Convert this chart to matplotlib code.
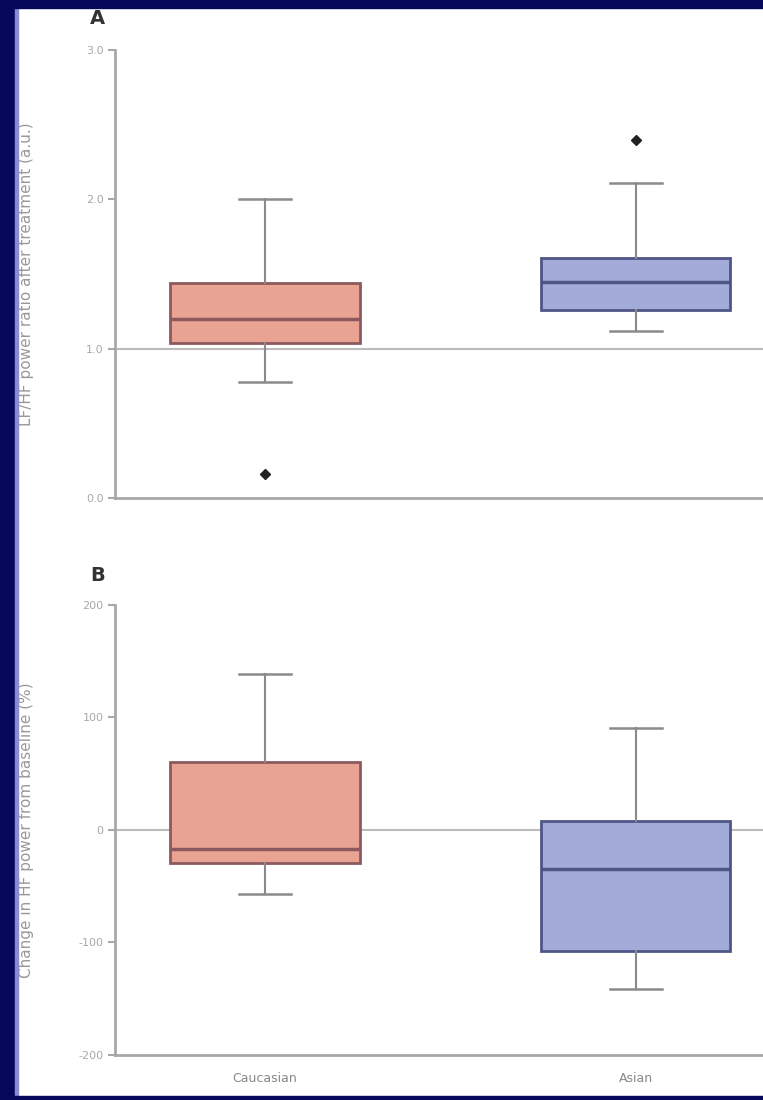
import matplotlib
matplotlib.use("Agg")
import matplotlib.pyplot as plt
from matplotlib.patches import Rectangle

# grupos e estatisticas dos boxplots
grupos = ["Caucasian", "Asian"]
cores = ["#e9a393", "#a3acd9"]
bordas = ["#8c5a5e", "#4f5687"]

# painel A
a_q1 = [1.04, 1.26]
a_med = [1.20, 1.45]
a_q3 = [1.44, 1.61]
a_wlo = [0.78, 1.12]
a_whi = [2.00, 2.11]
a_out = [[0.16], [2.40]]
a_ticks = [0, 1, 2, 3]
a_ticklabels = ["0.0", "1.0", "2.0", "3.0"]

# painel B
b_q1 = [-29, -108]
b_med = [-17, -35]
b_q3 = [60, 8]
b_wlo = [-57, -141]
b_whi = [139, 91]
b_out = [[], []]
b_ticks = [-200, -100, 0, 100, 200]
b_ticklabels = ["-200", "-100", "0", "100", "200"]

fig = plt.figure(figsize=(7.63, 11.0), dpi=100)

# moldura azul escura
fig.patches.append(Rectangle((0, 0), 0.020, 1, transform=fig.transFigure, color="#06065a", zorder=0))
fig.patches.append(Rectangle((0.020, 0), 0.004, 1, transform=fig.transFigure, color="#8a8ccf", zorder=0))
fig.patches.append(Rectangle((0, 0.993), 1, 0.007, transform=fig.transFigure, color="#06065a", zorder=0))
fig.patches.append(Rectangle((0, 0), 1, 0.004, transform=fig.transFigure, color="#06065a", zorder=0))


def desenha(ax, q1, med, q3, wlo, whi, out, ticks, ticklabels, ylim, ref, ylabel):
    stats = []
    for i in range(len(grupos)):
        stats.append({"q1": q1[i], "med": med[i], "q3": q3[i],
                      "whislo": wlo[i], "whishi": whi[i], "fliers": out[i]})
    bp = ax.bxp(stats, positions=[0, 1], widths=0.51, capwidths=0.14,
                patch_artist=True, showfliers=True,
                whiskerprops=dict(color="#8a8a8a", linewidth=1.5),
                capprops=dict(color="#8a8a8a", linewidth=1.8),
                flierprops=dict(marker="D", markersize=5, markerfacecolor="#222222",
                                markeredgecolor="#222222"))
    for caixa, cor, borda in zip(bp["boxes"], cores, bordas):
        caixa.set_facecolor(cor)
        caixa.set_edgecolor(borda)
        caixa.set_linewidth(2)
    for linha, borda in zip(bp["medians"], bordas):
        linha.set_color(borda)
        linha.set_linewidth(2.5)
    ax.axhline(ref, color="#bbbbbb", linewidth=1.5, zorder=0)
    ax.set_xlim(-0.404, 1.343)
    ax.set_ylim(ylim)
    ax.set_yticks(ticks)
    ax.set_yticklabels(ticklabels, fontsize=8, color="#999999")
    ax.set_ylabel(ylabel, fontsize=11, color="#999999")
    ax.yaxis.set_label_coords(-0.125, 0.5)
    for lado in ["top", "right"]:
        ax.spines[lado].set_visible(False)
    for lado in ["left", "bottom"]:
        ax.spines[lado].set_color("#a8a8a8")
        ax.spines[lado].set_linewidth(2)
    ax.tick_params(colors="#a8a8a8", width=1.5, length=5)


ax1 = fig.add_axes([0.151, 0.547, 0.849, 0.4075])
desenha(ax1, a_q1, a_med, a_q3, a_wlo, a_whi, a_out, a_ticks, a_ticklabels,
        (0, 3), 1.0, "LF/HF power ratio after treatment (a.u.)")
ax1.set_xticks([0, 1])
ax1.set_xticklabels([])
ax1.tick_params(axis="x", length=0)

ax2 = fig.add_axes([0.151, 0.041, 0.849, 0.409])
desenha(ax2, b_q1, b_med, b_q3, b_wlo, b_whi, b_out, b_ticks, b_ticklabels,
        (-200, 200), 0, "Change in HF power from baseline (%)")
ax2.set_xticks([0, 1])
ax2.set_xticklabels(grupos, fontsize=9, color="#888888")
ax2.tick_params(axis="x", length=0, pad=12)

fig.text(0.128, 0.978, "A", fontsize=14, fontweight="bold", color="#333333", ha="center")
fig.text(0.128, 0.472, "B", fontsize=14, fontweight="bold", color="#333333", ha="center")

plt.savefig("out.png", dpi=100)
